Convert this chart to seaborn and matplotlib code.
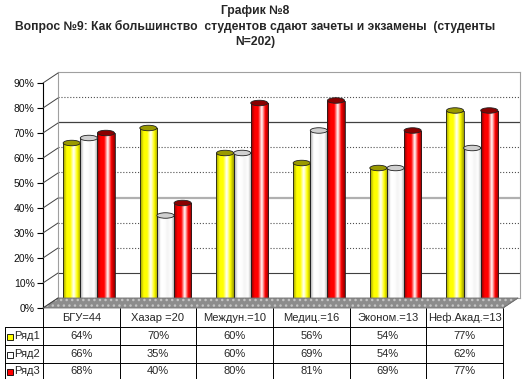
import numpy as np
import pandas as pd
import matplotlib
matplotlib.use('Agg')
import matplotlib.pyplot as plt
import seaborn as sns
from matplotlib.lines import Line2D
from matplotlib.patches import Polygon, Rectangle, Ellipse
from matplotlib.colors import LinearSegmentedColormap

# Данные графика
categorias = ['БГУ=44', 'Хазар =20', 'Междун.=10', 'Медиц.=16', 'Эконом.=13', 'Неф.Акад.=13']
series = ['Ряд1', 'Ряд2', 'Ряд3']
ryad1 = [64, 70, 60, 56, 54, 77]
ryad2 = [66, 35, 60, 69, 54, 62]
ryad3 = [68, 40, 80, 81, 69, 77]
y_ticks = [0, 10, 20, 30, 40, 50, 60, 70, 80, 90]

titulo = ('График №8\n'
          'Вопрос №9: Как большинство  студентов сдают зачеты и экзамены  (студенты\n'
          'N=202)')

cores = ['#FFFF00', '#FFFFFF', '#FF0000']
sombras = ['#9A9A00', '#A0A0A0', '#8A0000']

W, H = 526, 379

sns.set_theme(style='white')
plt.rcParams['font.family'] = ['Liberation Sans', 'DejaVu Sans']

fig = plt.figure(figsize=(W / 100, H / 100), dpi=100)


def fx(x):
    return x / W


def fy(y):
    return 1 - y / H


def caixa(x0, y0, x1, y1):
    # retângulo em pixels (topo-esquerda) -> fração da figura
    return [fx(x0), fy(y1), fx(x1) - fx(x0), fy(y0) - fy(y1)]


def linha(xs, ys, **kw):
    fig.add_artist(Line2D([fx(v) for v in xs], [fy(v) for v in ys],
                          transform=fig.transFigure, **kw))


# Título
fig.text(fx(255), fy(5), titulo, ha='center', va='top', fontsize=8.7,
         fontweight='bold', linespacing=1.3)

# Parede do fundo com linhas de grade
ax_wall = fig.add_axes(caixa(58, 72, 520, 298))
ax_wall.set_ylim(0, 0.9)
ax_wall.set_xlim(0, 1)
estilos = {10: ('-', '#404040', 0.8), 40: ('-', '#B0B0B0', 1.6), 70: ('-', '#404040', 0.9)}
for t in y_ticks[1:-1]:
    ls, c, lw = estilos.get(t, (':', '#505050', 0.8))
    ax_wall.axhline(t / 100, color=c, ls=ls, lw=lw)
ax_wall.set_xticks([])
ax_wall.set_yticks([])
for s in ax_wall.spines.values():
    s.set_color('#A0A0A0')
    s.set_linewidth(0.8)

# Parede lateral e chão
for t in y_ticks:
    yb = 298 - t / 100 * 250
    linha([43, 58], [yb + 10, yb], color='#404040', lw=0.7)
chao = [(fx(43), fy(308)), (fx(503), fy(308)), (fx(518), fy(298)), (fx(58), fy(298))]
fig.add_artist(Polygon(chao, closed=True, transform=fig.transFigure, facecolor='#8C8C8C',
                       edgecolor='#707070', lw=0.6))
fig.add_artist(Polygon(chao, closed=True, transform=fig.transFigure, fill=False,
                       edgecolor='#C4C4C4', lw=0, hatch='...'))
linha([503, 518], [308, 298], color='#707070', lw=0.6)

# Eixo frontal
ax_front = fig.add_axes(caixa(43, 83, 503, 308))
ax_front.patch.set_alpha(0)
ax_front.set_ylim(0, 0.9)
ax_front.set_yticks([t / 100 for t in y_ticks])
ax_front.set_yticklabels([f'{t}%' for t in y_ticks], fontsize=7.5, color='#111111')
ax_front.tick_params(axis='y', direction='out', length=4, width=0.8, color='black', pad=2, left=True)
ax_front.set_xticks([])
for k in ['top', 'right', 'bottom']:
    ax_front.spines[k].set_visible(False)
ax_front.spines['left'].set_color('black')
ax_front.spines['left'].set_linewidth(0.8)

# Barras (cilindros)
df = pd.DataFrame({
    'cat': categorias * 3,
    'serie': [s for s in series for _ in categorias],
    'val': [v / 100 for v in ryad1 + ryad2 + ryad3],
})
ax = fig.add_axes(caixa(50.5, 78, 510.5, 303))
ax.patch.set_alpha(0)
sns.barplot(data=df, x='cat', y='val', hue='serie', palette=cores, width=0.67,
            edgecolor='#202020', linewidth=0.6, legend=False, ax=ax, saturation=1)

elips_h = 0.022
for cont, cor, sombra in zip(ax.containers, cores, sombras):
    brilho = '#FFFFFF' if cor != '#FFFFFF' else '#F4F4F4'
    cmap = LinearSegmentedColormap.from_list('cil', [sombra, cor, cor, brilho, cor, sombra])
    grad = np.linspace(0, 1, 64).reshape(1, -1)
    for bar in cont:
        x0, w, h = bar.get_x(), bar.get_width(), bar.get_height()
        im = ax.imshow(grad, extent=[x0, x0 + w, 0, h], aspect='auto', cmap=cmap,
                       zorder=bar.get_zorder() + 0.1, interpolation='bilinear')
        im.set_clip_path(bar)
        tampa = sombra if cor != '#FFFFFF' else '#D0D0D0'
        ax.add_patch(Ellipse((x0 + w / 2, h), w, elips_h, facecolor=tampa,
                             edgecolor='#202020', lw=0.6, zorder=bar.get_zorder() + 0.3))
        bar.set_facecolor('none')
        bar.set_zorder(bar.get_zorder() + 0.2)

ax.set_xlim(-0.5, len(categorias) - 0.5)
ax.set_ylim(0, 0.9)
ax.set_xlabel('')
ax.set_ylabel('')
ax.set_xticks([])
ax.set_yticks([])
for s in ax.spines.values():
    s.set_visible(False)

# Tabela de dados
ax_tab = fig.add_axes(caixa(5, 308, 503, 378.5))
ax_tab.axis('off')
ax_tab.set_xlim(5, 503)
ax_tab.set_ylim(378.5, 308)
col_x = [5] + [43 + i * 460 / 6 for i in range(7)]
row_y = [308, 326.5, 344.5, 362.5, 378.5]
kw = dict(color='black', lw=0.7, clip_on=False)
for i in range(1, 8):
    ax_tab.plot([col_x[i], col_x[i]], [row_y[0], row_y[-1]], **kw)
ax_tab.plot([5, 5], [row_y[1], row_y[-1]], **kw)
for j in range(1, 5):
    ax_tab.plot([5, col_x[-1]], [row_y[j], row_y[j]], **kw)
for i, c in enumerate(categorias):
    ax_tab.text((col_x[i + 1] + col_x[i + 2]) / 2, (row_y[0] + row_y[1]) / 2 + 0.5, c,
                ha='center', va='center', fontsize=8)
valores = [ryad1, ryad2, ryad3]
for r, (nome, vals, cor) in enumerate(zip(series, valores, cores)):
    yc = (row_y[r + 1] + row_y[r + 2]) / 2 + 0.5
    ax_tab.add_patch(Rectangle((7.5, yc - 2.5), 6, 6, facecolor=cor, edgecolor='black', lw=0.6))
    ax_tab.text(14.5, yc, nome, ha='left', va='center', fontsize=8)
    for i, v in enumerate(vals):
        ax_tab.text((col_x[i + 1] + col_x[i + 2]) / 2, yc, f'{v}%', ha='center', va='center', fontsize=8)

fig.savefig('out.png', dpi=100)
